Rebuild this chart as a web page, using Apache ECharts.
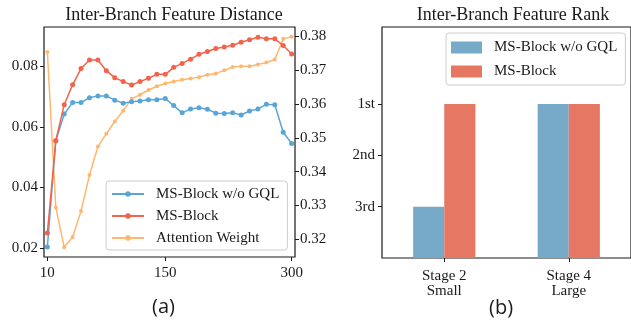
<!DOCTYPE html>
<html><head><meta charset="utf-8">
<script src="https://cdn.jsdelivr.net/npm/echarts@6/dist/echarts.min.js"></script>
<style>html,body{margin:0;padding:0;background:#fff;}#c{width:631px;height:324px;}</style>
</head><body><div id="c"></div>
<script>
// ---- data ----
const steps = [10,20,30,40,50,60,70,80,90,100,110,120,130,140,150,160,170,180,190,200,210,220,230,240,250,260,270,280,290,300];
const woGQL = [0.0204,0.0554,0.0642,0.0680,0.0680,0.0696,0.0702,0.0702,0.0688,0.0678,0.0683,0.0685,0.0689,0.0689,0.0693,0.0670,0.0646,0.0659,0.0663,0.0658,0.0645,0.0644,0.0646,0.0639,0.0652,0.0659,0.0674,0.0673,0.0582,0.0545];
const msBlock = [0.0250,0.0554,0.0673,0.0739,0.0792,0.0820,0.0820,0.0785,0.0762,0.0749,0.0738,0.0749,0.0760,0.0773,0.0773,0.0796,0.0809,0.0823,0.0839,0.0848,0.0858,0.0863,0.0869,0.0879,0.0887,0.0895,0.0890,0.0890,0.0868,0.0840];
const attnWeight = [0.3753,0.3294,0.3177,0.3207,0.3284,0.3390,0.3474,0.3512,0.3548,0.3580,0.3615,0.3627,0.3641,0.3652,0.3660,0.3666,0.3671,0.3675,0.3679,0.3686,0.3690,0.3699,0.3709,0.3711,0.3711,0.3716,0.3722,0.3731,0.3792,0.3798];
const xTicks = [10,150,300];
const leftTicks = [0.02,0.04,0.06,0.08];
const rightTicks = [0.32,0.33,0.34,0.35,0.36,0.37,0.38];
const stages = ['Stage 2\nSmall','Stage 4\nLarge'];
const rankWoGQL = [1,3];
const rankMS = [3,3];
const rankTicks = [1,2,3];
const rankLabels = ['3rd','2nd','1st'];
const seriesNames = ['MS-Block w/o GQL','MS-Block','Attention Weight'];

const serif = 'Liberation Serif';
const ink = '#1a1a1a';
const cBlue = '#5aa5d8', cRed = '#f3634b', cOrange = '#ffb770';
const bBlue = '#77a9c8', bRed = '#e57763';
const chart = echarts.init(document.getElementById('c'), null, {renderer:'canvas'});
function pair(xs, ys){ return xs.map((x,i)=>[x, ys[i]]); }
const tickStyle = {show:true, inside:false, length:4, lineStyle:{color:ink, width:1}};
const lblStyle = {fontFamily:serif, fontSize:15, color:ink};

chart.setOption({
  animation:false,
  title:[
    {text:'Inter-Branch Feature Distance', left:169, top:1, textAlign:'center', textStyle:{fontFamily:serif, fontSize:18, fontWeight:'normal', color:ink}},
    {text:'Inter-Branch Feature Rank', left:508, top:1, textAlign:'center', textStyle:{fontFamily:serif, fontSize:18, fontWeight:'normal', color:ink}}
  ],
  grid:[
    {left:44, top:27, width:251, height:230, show:true, borderColor:ink, borderWidth:1.2, backgroundColor:'transparent'},
    {left:382, top:27, width:252, height:231, show:true, borderColor:ink, borderWidth:1.2, backgroundColor:'transparent'}
  ],
  legend:[
    {data:seriesNames, left:106, top:181, orient:'vertical', itemWidth:32, itemHeight:7, itemGap:6,
     padding:[5,8,4,5], backgroundColor:'rgba(255,255,255,0.85)', borderColor:'#cccccc', borderWidth:1, borderRadius:3,
     textStyle:{fontFamily:serif, fontSize:15, lineHeight:16, color:ink, padding:[0,0,0,7]}},
    {data:[{name:'MS-Block w/o GQL', itemStyle:{color:bBlue}}, {name:'MS-Block', itemStyle:{color:bRed}}],
     left:446, top:33, orient:'vertical', itemWidth:31, itemHeight:12, itemGap:9,
     icon:'rect', padding:[7,8,6,5], backgroundColor:'rgba(255,255,255,0.85)', borderColor:'#cccccc', borderWidth:1, borderRadius:3,
     textStyle:{fontFamily:serif, fontSize:15, color:ink, padding:[0,0,0,7]}}
  ],
  xAxis:[
    {type:'value', gridIndex:0, min:6, max:304, splitLine:{show:false}, axisLine:{show:false},
     axisTick:Object.assign({customValues:xTicks}, tickStyle),
     axisLabel:Object.assign({customValues:xTicks, margin:9}, lblStyle)},
    {type:'category', gridIndex:1, data:stages, axisLine:{show:false},
     axisTick:{show:true, alignWithLabel:true, length:4, lineStyle:{color:ink}},
     axisLabel:Object.assign({margin:11, lineHeight:15, align:'center'}, lblStyle)}
  ],
  yAxis:[
    {type:'value', gridIndex:0, min:0.0171, max:0.0929, splitLine:{show:false}, axisLine:{show:false},
     axisTick:Object.assign({customValues:leftTicks}, tickStyle),
     axisLabel:Object.assign({customValues:leftTicks, margin:6, formatter:v=>v.toFixed(2)}, lblStyle)},
    {type:'value', gridIndex:0, position:'right', min:0.3148, max:0.3827, splitLine:{show:false}, axisLine:{show:false},
     axisTick:Object.assign({customValues:rightTicks}, tickStyle),
     axisLabel:Object.assign({customValues:rightTicks, margin:5, formatter:v=>v.toFixed(2)}, lblStyle)},
    {type:'value', gridIndex:1, min:0, max:4.5, splitLine:{show:false}, axisLine:{show:false},
     axisTick:Object.assign({customValues:rankTicks}, tickStyle),
     axisLabel:Object.assign({customValues:rankTicks, margin:7, formatter:v=>rankLabels[Math.round(v)-1]}, lblStyle)}
  ],
  series:[
    {name:seriesNames[2], type:'line', xAxisIndex:0, yAxisIndex:1, data:pair(steps, attnWeight),
     symbol:'circle', symbolSize:4, lineStyle:{width:1.5, color:cOrange}, itemStyle:{color:cOrange}, z:2},
    {name:seriesNames[0], type:'line', xAxisIndex:0, yAxisIndex:0, data:pair(steps, woGQL),
     symbol:'circle', symbolSize:5, lineStyle:{width:1.5, color:cBlue}, itemStyle:{color:cBlue}, z:3},
    {name:seriesNames[1], type:'line', xAxisIndex:0, yAxisIndex:0, data:pair(steps, msBlock),
     symbol:'circle', symbolSize:5, lineStyle:{width:1.5, color:cRed}, itemStyle:{color:cRed}, z:4},
    {name:'MS-Block w/o GQL', type:'bar', xAxisIndex:1, yAxisIndex:2, data:rankWoGQL, barGap:'0%', barCategoryGap:'50%',
     itemStyle:{color:bBlue}},
    {name:'MS-Block', type:'bar', xAxisIndex:1, yAxisIndex:2, data:rankMS, barGap:'0%', barCategoryGap:'50%',
     itemStyle:{color:bRed}}
  ],
  graphic:[
    {type:'text', left:152, top:297, style:{text:'(a)', font:'20px "Open Sans"', fill:ink}},
    {type:'text', left:489, top:298, style:{text:'(b)', font:'20px "Open Sans"', fill:ink}}
  ]
});
</script></body></html>
